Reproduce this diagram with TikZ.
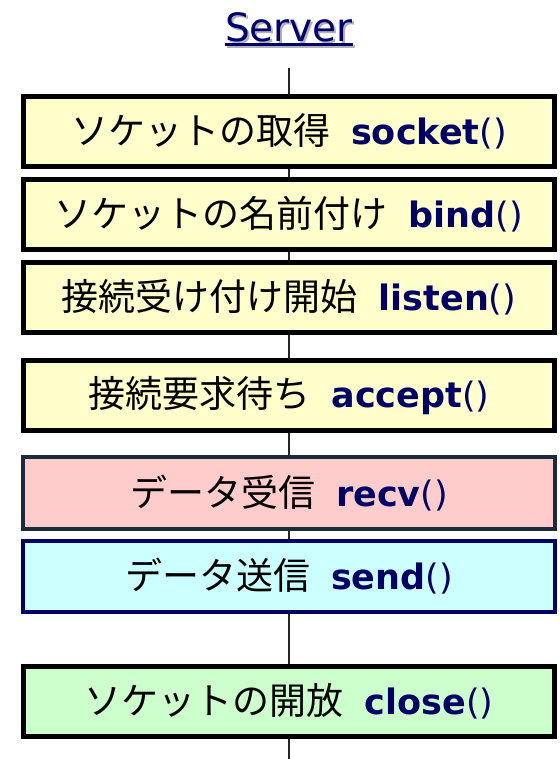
\documentclass[tikz,border=0pt]{standalone}
\usepackage{fontspec}
\setmainfont{DejaVu Sans}
\newfontfamily\jp{Noto Sans CJK JP}
\definecolor{navy}{HTML}{000066}
\definecolor{titleblue}{HTML}{000070}
\definecolor{fyellow}{HTML}{FFFFCC}
\definecolor{fpink}{HTML}{FFCCCC}
\definecolor{fcyan}{HTML}{CCFFFF}
\definecolor{fgreen}{HTML}{CCFFCC}
\definecolor{recvborder}{HTML}{1C2A3A}
\newcommand{\fn}[2]{\raisebox{2pt}{{\jp\fontsize{37}{42}\selectfont #1}\hspace{21pt}{\bfseries\color{navy}#2}{\color{navy}()}}}
\begin{document}
\begin{tikzpicture}[x=1pt,y=-1pt,
  stepbox/.style={draw=black, line width=5pt, minimum width=531pt, minimum height=70pt,
    inner sep=0pt, font=\fontsize{35}{40}\selectfont, text=black},
  conn/.style={line width=2pt, black!85}]
\useasboundingbox (0,0) rectangle (559,759);
% title with shadow
\node[anchor=base, inner sep=0pt, font=\fontsize{39}{44}\selectfont] (title) at (289,42)
  {\rlap{\hspace{2pt}\raisebox{-2pt}{\color{black!30}Server}}{\color{titleblue}Server}};
\draw[black!30, line width=2.5pt] ([xshift=2pt,yshift=-4.5pt]title.base west) -- ([xshift=2pt,yshift=-4.5pt]title.base east);
\draw[titleblue, line width=2.5pt] ([yshift=-2.5pt]title.base west) -- ([yshift=-2.5pt]title.base east);
\coordinate (top) at (289,68);
\coordinate (bot) at (289,759);
\node[stepbox, fill=fyellow] (b1) at (289,131.5) {\fn{ソケットの取得}{socket}};
\node[stepbox, fill=fyellow] (b2) at (289,214.5) {\fn{ソケットの名前付け}{bind}};
\node[stepbox, fill=fyellow] (b3) at (289,297.5) {\fn{接続受け付け開始}{listen}};
\node[stepbox, fill=fyellow] (b4) at (289,395.5) {\fn{接続要求待ち}{accept}};
\node[stepbox, fill=fpink, draw=recvborder, line width=4pt, minimum width=532pt, minimum height=72pt] (b5) at (289,493) {\fn{データ受信}{recv}};
\node[stepbox, fill=fcyan, draw=navy, line width=4pt, minimum width=532pt, minimum height=71pt] (b6) at (289,576.5) {\fn{データ送信}{send}};
\node[stepbox, fill=fgreen] (b7) at (289,701.5) {\fn{ソケットの開放}{close}};
\draw[conn] (top) -- (top |- b1.north);
\draw[conn] (b1.south -| top) -- (b2.north -| top);
\draw[conn] (b2.south -| top) -- (b3.north -| top);
\draw[conn] (b3.south -| top) -- (b4.north -| top);
\draw[conn] (b4.south -| top) -- (b5.north -| top);
\draw[conn] (b5.south -| top) -- (b6.north -| top);
\draw[conn] (b6.south -| top) -- (b7.north -| top);
\draw[conn] (b7.south -| top) -- (bot);
\end{tikzpicture}
\end{document}
